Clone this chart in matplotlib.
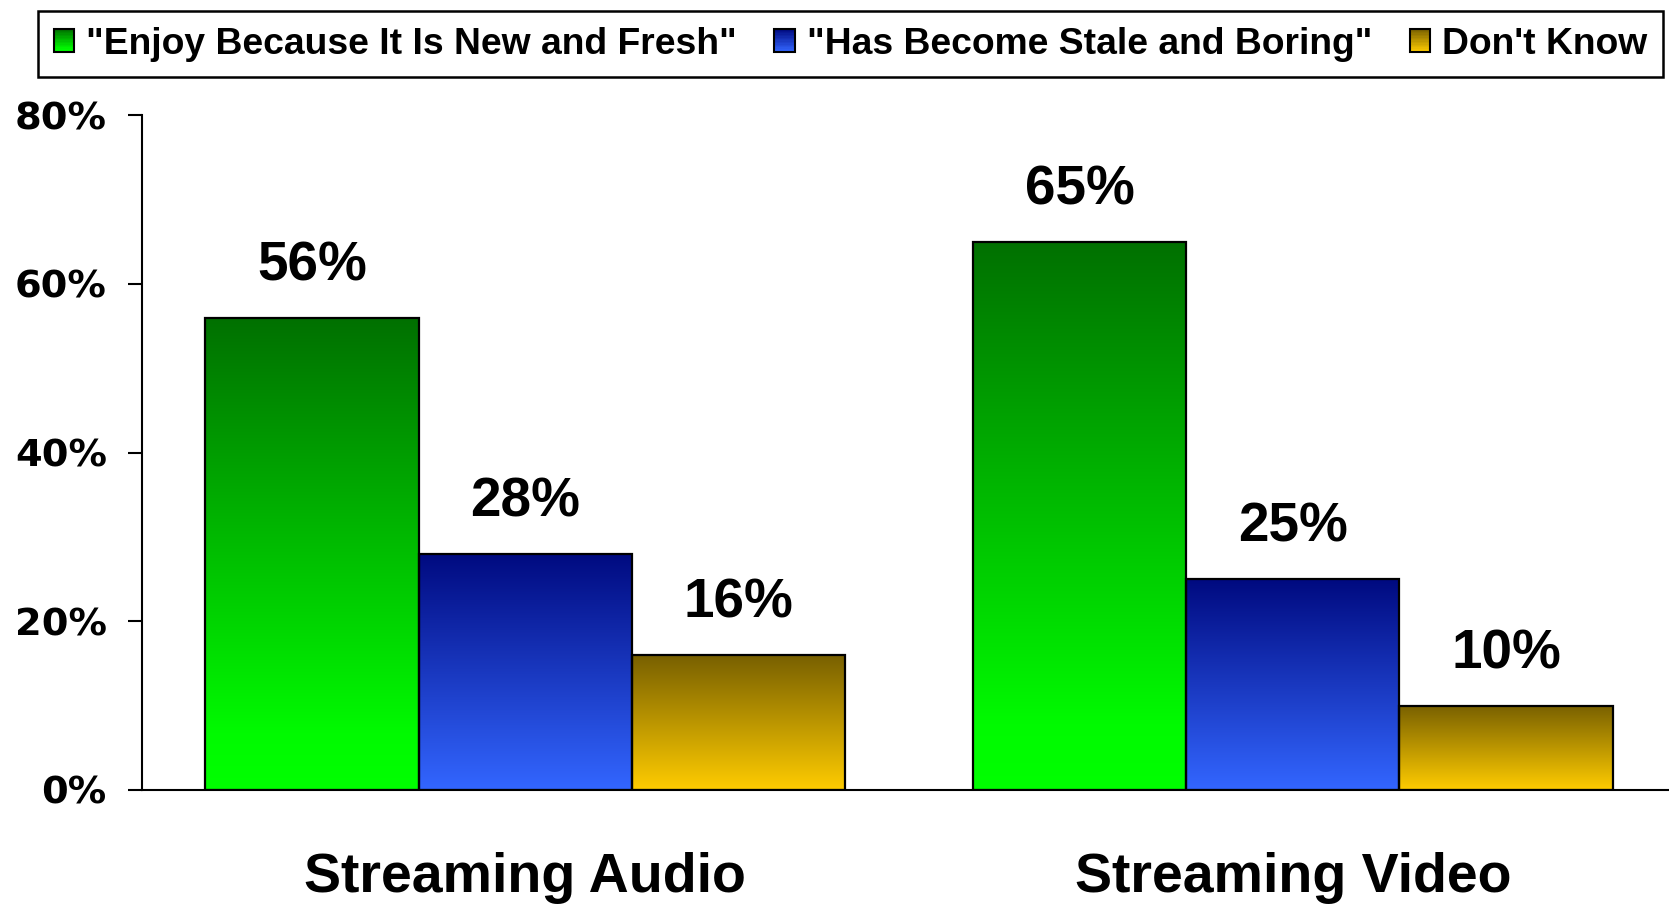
import numpy as np
import matplotlib
matplotlib.use("Agg")
import matplotlib.pyplot as plt
from matplotlib.colors import LinearSegmentedColormap
from matplotlib.patches import Rectangle
from matplotlib.legend_handler import HandlerBase
from matplotlib.ticker import FuncFormatter

# Survey data
categories = ["Streaming Audio", "Streaming Video"]
series_names = ['"Enjoy Because It Is New and Fresh"',
                '"Has Become Stale and Boring"',
                "Don't Know"]
enjoy = [56, 65]
stale = [28, 25]
dont_know = [16, 10]
series_values = [enjoy, stale, dont_know]
y_ticks = [0, 20, 40, 60, 80]

# Vertical gradients: bottom colour -> top colour
gradients = [
    LinearSegmentedColormap.from_list("green", [(0, "#00FF00"), (0.12, "#00FA00"), (1, "#007000")]),
    LinearSegmentedColormap.from_list("blue", [(0, "#3366FF"), (1, "#000A80")]),
    LinearSegmentedColormap.from_list("gold", [(0, "#FFCC00"), (1, "#786000")]),
]

BOLD = dict(family="Liberation Sans", weight="bold")

fig = plt.figure(figsize=(16.69, 9.07), dpi=100)
ax = fig.add_axes([0.0848, 0.129, 0.9197, 0.744])

n = len(series_values)
width = 1 / 3.6
x = np.arange(len(categories))
grad = np.linspace(0, 1, 256).reshape(-1, 1)

for i, (vals, cmap) in enumerate(zip(series_values, gradients)):
    offs = (i - (n - 1) / 2) * width
    bars = ax.bar(x + offs, vals, width, facecolor="none", edgecolor="black",
                  linewidth=1.6, zorder=3, label=series_names[i])
    for bar, v in zip(bars, vals):
        x0 = bar.get_x()
        im = ax.imshow(grad, extent=[x0, x0 + bar.get_width(), 0, bar.get_height()],
                       origin="lower", aspect="auto", cmap=cmap, zorder=2,
                       interpolation="bilinear")
        im.set_clip_path(bar)
        ax.annotate(f"{v}%", (bar.get_x() + bar.get_width() / 2, bar.get_height()),
                    xytext=(0, 27), textcoords="offset points", ha="center",
                    va="baseline", fontsize=39.5, **BOLD)

ax.set_xlim(-0.5, 1.5)
ax.set_ylim(0, 80)
ax.set_yticks(y_ticks)
ax.yaxis.set_major_formatter(FuncFormatter(lambda v, p: f"{v:.0f}%"))
ax.set_xticks(x)
ax.set_xticklabels(categories, fontsize=40, **BOLD)
ax.tick_params(axis="x", length=0, pad=44.5)
ax.tick_params(axis="y", length=10, width=1.5, pad=15, direction="out")
for lab in ax.get_yticklabels():
    lab.set_family("DejaVu Sans")
    lab.set_weight("bold")
    lab.set_fontsize(27.6)

for s in ["top", "right"]:
    ax.spines[s].set_visible(False)
for s in ["left", "bottom"]:
    ax.spines[s].set_linewidth(1.5)


class GradientHandler(HandlerBase):
    def __init__(self, cmap):
        super().__init__()
        self.cmap = cmap

    def create_artists(self, legend, orig_handle, xdescent, ydescent, width,
                       height, fontsize, trans):
        arts = []
        steps = 16
        for k in range(steps):
            c = self.cmap(1 - (k + 0.5) / steps)
            arts.append(Rectangle((-xdescent, -ydescent + height * (1 - (k + 1) / steps)),
                                  width, height / steps, facecolor=c,
                                  edgecolor="none", transform=trans))
        arts.append(Rectangle((-xdescent, -ydescent), width, height,
                              facecolor="none", edgecolor="black", linewidth=1.5,
                              transform=trans))
        return arts


handles, labels = ax.get_legend_handles_labels()
leg = fig.legend(handles, labels, loc="upper left",
                 bbox_to_anchor=(38 / 1669, 1 - 11 / 907), ncol=3,
                 prop=dict(family="Liberation Sans", weight="bold", size=26.8),
                 handler_map={h: GradientHandler(c) for h, c in zip(handles, gradients)},
                 handlelength=0.55, handleheight=0.55, handletextpad=0.33,
                 columnspacing=1.0, borderpad=0.42, borderaxespad=0,
                 frameon=True, fancybox=False, edgecolor="black", framealpha=1)
leg.get_frame().set_linewidth(1.8)

fig.savefig("out.png", dpi=100)
